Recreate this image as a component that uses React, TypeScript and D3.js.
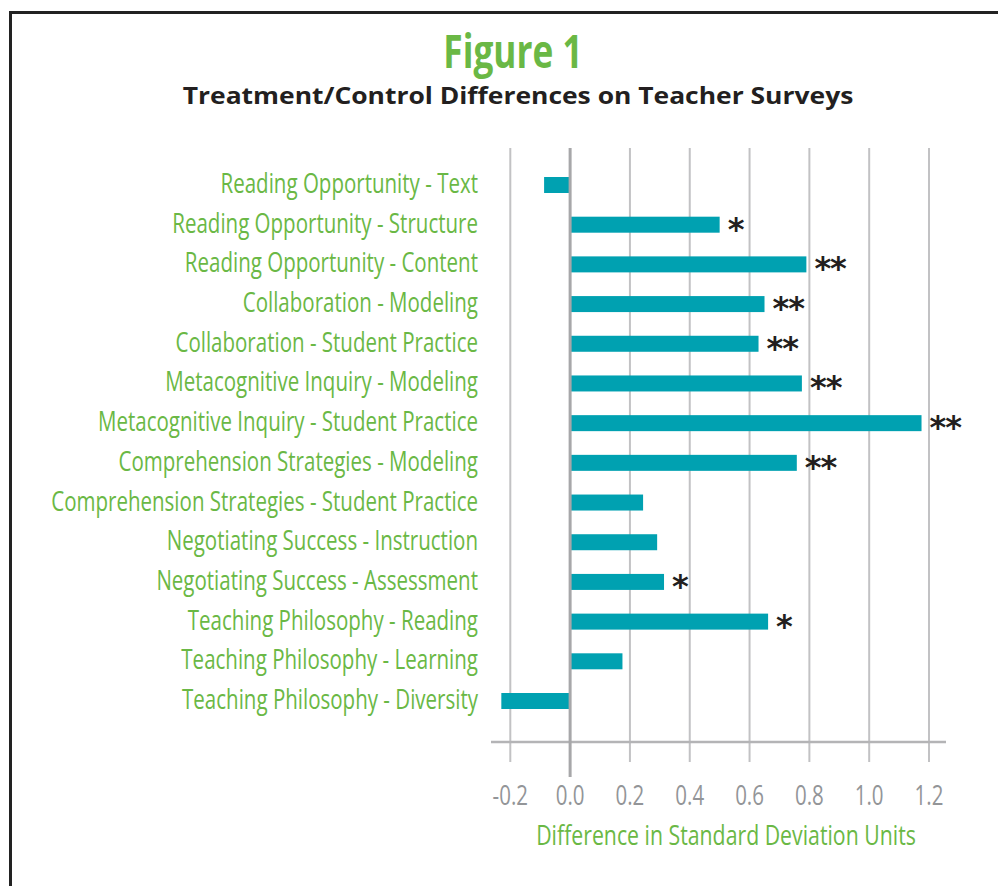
import React, { useRef, useEffect } from 'react';
import * as d3 from 'd3';

const categories = [
  'Reading Opportunity - Text',
  'Reading Opportunity - Structure',
  'Reading Opportunity - Content',
  'Collaboration - Modeling',
  'Collaboration - Student Practice',
  'Metacognitive Inquiry - Modeling',
  'Metacognitive Inquiry - Student Practice',
  'Comprehension Strategies - Modeling',
  'Comprehension Strategies - Student Practice',
  'Negotiating Success - Instruction',
  'Negotiating Success - Assessment',
  'Teaching Philosophy - Reading',
  'Teaching Philosophy - Learning',
  'Teaching Philosophy - Diversity',
];
const values = [-0.087, 0.5, 0.79, 0.65, 0.63, 0.775, 1.175, 0.758, 0.244, 0.291, 0.314, 0.662, 0.175, -0.23];
const stars = ['', '*', '**', '**', '**', '**', '**', '**', '', '', '*', '*', '', ''];
const xTicks = [-0.2, 0, 0.2, 0.4, 0.6, 0.8, 1.0, 1.2];

const GREEN = '#6ab845';
const TEAL = '#00a1b1';

function App() {
  const svgRef = useRef(null);
  useEffect(() => {
    const w = 998;
    const h = 886;
    const svg = d3.select(svgRef.current);
    svg.selectAll('*').remove();
    svg.attr('width', w).attr('height', h).style('background', '#fff');

    const x = d3.scaleLinear().domain([-0.2, 1.2]).range([510.3, 929]);
    const y = d3.scalePoint<string>().domain(categories).range([185, 701]);
    const barH = 16;

    // border
    svg.append('path')
      .attr('d', 'M10.5,1000 V12.5 H1000')
      .attr('fill', 'none')
      .attr('stroke', '#222')
      .attr('stroke-width', 3);

    // titles
    svg.append('text')
      .attr('transform', 'translate(513,68) scale(0.75,1)')
      .attr('text-anchor', 'middle')
      .style('font-family', 'Open Sans')
      .style('font-weight', 700)
      .style('font-size', '47px')
      .attr('fill', GREEN)
      .text('Figure 1');
    svg.append('text')
      .attr('transform', 'translate(518,104) scale(1.15,1)')
      .attr('text-anchor', 'middle')
      .style('font-family', 'Open Sans')
      .style('font-weight', 700)
      .style('font-size', '23px')
      .attr('fill', '#231f20')
      .text('Treatment/Control Differences on Teacher Surveys');

    // gridlines
    const axisY = 742;
    svg.append('g').selectAll('line')
      .data(xTicks.filter(t => t !== 0))
      .join('line')
      .attr('x1', d => x(d)).attr('x2', d => x(d))
      .attr('y1', 148).attr('y2', 762)
      .attr('stroke', '#c2c2c4')
      .attr('stroke-width', 2);

    // axis line
    svg.append('line')
      .attr('x1', 491).attr('x2', 946)
      .attr('y1', axisY).attr('y2', axisY)
      .attr('stroke', '#b4b4b6')
      .attr('stroke-width', 2.5);

    // bars
    svg.append('g').selectAll('rect')
      .data(values)
      .join('rect')
      .attr('x', d => Math.min(x(0), x(d)))
      .attr('width', d => Math.abs(x(d) - x(0)))
      .attr('y', (d, i) => (y(categories[i]) as number) - barH / 2)
      .attr('height', barH)
      .attr('fill', TEAL);

    // zero line
    svg.append('line')
      .attr('x1', x(0)).attr('x2', x(0))
      .attr('y1', 148).attr('y2', 777)
      .attr('stroke', '#a7a7a9')
      .attr('stroke-width', 3);

    // significance stars
    svg.append('g').selectAll('text')
      .data(values)
      .join('text')
      .attr('x', d => x(d) + 8)
      .attr('y', (d, i) => (y(categories[i]) as number) + 15)
      .style('font-family', 'DejaVu Sans')
      .style('font-weight', 700)
      .style('font-size', '32px')
      .style('letter-spacing', '-1px')
      .attr('fill', '#231f20')
      .text((d, i) => stars[i]);

    // category labels
    svg.append('g').selectAll('text')
      .data(categories)
      .join('text')
      .attr('transform', d => `translate(478,${(y(d) as number) + 8}) scale(0.733,1)`)
      .attr('text-anchor', 'end')
      .style('font-family', 'Open Sans')
      .style('font-size', '28px')
      .attr('fill', GREEN)
      .text(d => d);

    // tick labels
    svg.append('g').selectAll('text')
      .data(xTicks)
      .join('text')
      .attr('transform', d => `translate(${x(d)},805) scale(0.76,1)`)
      .attr('text-anchor', 'middle')
      .style('font-family', 'Open Sans')
      .style('font-size', '27px')
      .attr('fill', '#939598')
      .text(d => d.toFixed(1));

    // axis title
    svg.append('text')
      .attr('transform', 'translate(726,845) scale(0.76,1)')
      .attr('text-anchor', 'middle')
      .style('font-family', 'Open Sans')
      .style('font-size', '28px')
      .attr('fill', GREEN)
      .text('Difference in Standard Deviation Units');
  }, []);
  return (
    <div style={{ position: 'absolute', left: 0, top: 0 }}>
      <svg ref={svgRef} style={{ display: 'block' }}></svg>
    </div>
  );
}

export default App;
